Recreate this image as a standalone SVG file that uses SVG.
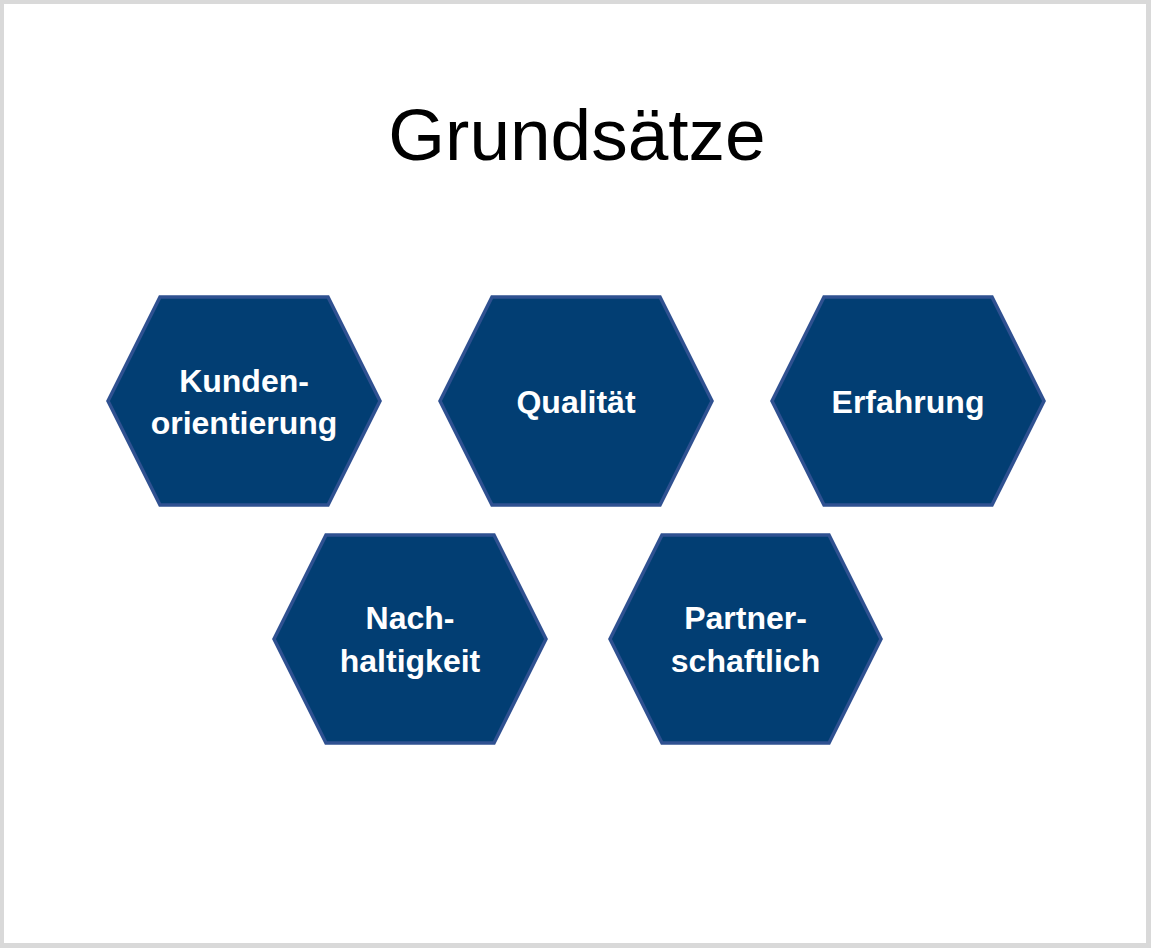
<svg xmlns="http://www.w3.org/2000/svg" width="1151" height="948" viewBox="0 0 1151 948">
<style>
.hex{fill:#023E73;stroke:#2F5191;stroke-width:3.5;stroke-linejoin:miter}
.lbl{font-family:"Liberation Sans",Arial,sans-serif;font-weight:bold;font-size:32px;fill:#FFFFFF;text-anchor:middle}
.title{font-family:"Liberation Sans",Arial,sans-serif;font-size:73px;fill:#000000;text-anchor:middle}
</style>
<rect x="0" y="0" width="1151" height="948" fill="#D9D9D9"/>
<rect x="4" y="4" width="1142" height="939" fill="#FFFFFF"/>
<text class="title" x="577" y="160">Grundsätze</text>
<g id="kundenorientierung">
<polygon class="hex" points="108,401 160,297 328,297 380,401 328,505 160,505"/>
<text class="lbl" x="244" y="392">Kunden-</text>
<text class="lbl" x="244" y="434">orientierung</text>
</g>
<g id="qualitaet">
<polygon class="hex" points="440,401 492,297 660,297 712,401 660,505 492,505"/>
<text class="lbl" x="576" y="413">Qualität</text>
</g>
<g id="erfahrung">
<polygon class="hex" points="772,401 824,297 992,297 1044,401 992,505 824,505"/>
<text class="lbl" x="908" y="413">Erfahrung</text>
</g>
<g id="nachhaltigkeit">
<polygon class="hex" points="274,639 326,535 494,535 546,639 494,743 326,743"/>
<text class="lbl" x="410" y="629">Nach-</text>
<text class="lbl" x="410" y="672">haltigkeit</text>
</g>
<g id="partnerschaftlich">
<polygon class="hex" points="610,639 662,535 829,535 881,639 829,743 662,743"/>
<text class="lbl" x="745.5" y="629">Partner-</text>
<text class="lbl" x="745.5" y="672">schaftlich</text>
</g>
<g id="connectors"/>
</svg>
